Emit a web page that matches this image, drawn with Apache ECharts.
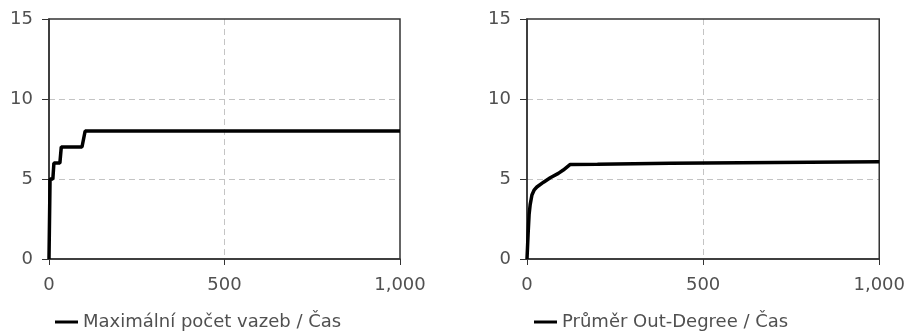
<!DOCTYPE html>
<html>
<head>
<meta charset="utf-8">
<script src="https://cdn.jsdelivr.net/npm/echarts@6/dist/echarts.min.js"></script>
<style>
html,body{margin:0;padding:0;background:#fff;}
#c{width:908px;height:334px;}
</style>
</head>
<body>
<div id="c"></div>
<script>
// Chart 1: Maximální počet vazeb / Čas
const name1 = 'Maximální počet vazeb / Čas';
const time1 = [0, 3, 11, 14, 31, 35, 94, 103, 1000];
const vals1 = [0, 5, 5, 6, 6, 7, 7, 8, 8];

// Chart 2: Průměr Out-Degree / Čas
const name2 = 'Průměr Out-Degree / Čas';
const time2 = [0, 3, 6, 9, 14, 20, 28, 47, 66, 89, 103, 122, 200, 202, 408, 411, 1000];
const vals2 = [0, 1.5, 2.8, 3.4, 4.0, 4.3, 4.5, 4.8, 5.08, 5.35, 5.56, 5.9, 5.92, 5.98, 5.98, 6.08, 6.08];

const xTicks = [0, 500, 1000];
const yTicks = [0, 5, 10, 15];

const font = 'DejaVu Sans';
const txtColor = '#505050';
const frame = '#333';

const dash = { color: '#c4c4c4', type: [6, 4], width: 1 };

function xAxis(gi) {
  return {
    type: 'value', gridIndex: gi, min: xTicks[0], max: xTicks[xTicks.length - 1], interval: xTicks[1] - xTicks[0],
    axisLine: { show: true, lineStyle: { color: frame, width: 1.5 } },
    axisTick: { show: true, inside: false, length: 6, lineStyle: { color: frame } },
    axisLabel: {
      margin: 17, fontFamily: font, fontSize: 18, color: txtColor,
      formatter: v => v.toLocaleString('en-US')
    },
    splitLine: { show: true, showMinLine: false, showMaxLine: false, lineStyle: dash }
  };
}
function yAxis(gi) {
  return {
    type: 'value', gridIndex: gi, min: yTicks[0], max: yTicks[yTicks.length - 1], interval: yTicks[1] - yTicks[0],
    axisLine: { show: true, lineStyle: { color: frame, width: 1.5 } },
    axisTick: { show: true, inside: false, length: 7, lineStyle: { color: frame } },
    axisLabel: { margin: 16, fontFamily: font, fontSize: 18, color: txtColor },
    splitLine: { show: true, showMinLine: false, showMaxLine: false, lineStyle: dash }
  };
}
function legend(left, nm) {
  return {
    data: [nm], left: left, top: 313, orient: 'horizontal', padding: 0,
    icon: 'rect', itemWidth: 23, itemHeight: 3, itemGap: 0,
    textStyle: { fontFamily: font, fontSize: 18, color: txtColor },
    selectedMode: false
  };
}

const chart = echarts.init(document.getElementById('c'), null, { renderer: 'canvas' });
chart.setOption({
  animation: false,
  backgroundColor: '#fff',
  grid: [
    { left: 49, right: 508, top: 19, bottom: 75, show: true, borderColor: frame, borderWidth: 1.5, backgroundColor: 'transparent', z: 3 },
    { left: 527, right: 28, top: 19, bottom: 75, show: true, borderColor: frame, borderWidth: 1.5, backgroundColor: 'transparent', z: 3 }
  ],
  xAxis: [xAxis(0), xAxis(1)],
  yAxis: [yAxis(0), yAxis(1)],
  legend: [legend(55, name1), legend(534, name2)],
  series: [
    {
      name: name1, type: 'line', xAxisIndex: 0, yAxisIndex: 0,
      data: time1.map((t, i) => [t, vals1[i]]),
      showSymbol: false, symbol: 'none',
      lineStyle: { color: '#000', width: 3.5 }, itemStyle: { color: '#000' }
    },
    {
      name: name2, type: 'line', xAxisIndex: 1, yAxisIndex: 1,
      data: time2.map((t, i) => [t, vals2[i]]),
      showSymbol: false, symbol: 'none',
      lineStyle: { color: '#000', width: 3.5 }, itemStyle: { color: '#000' }
    }
  ]
});
</script>
</body>
</html>
